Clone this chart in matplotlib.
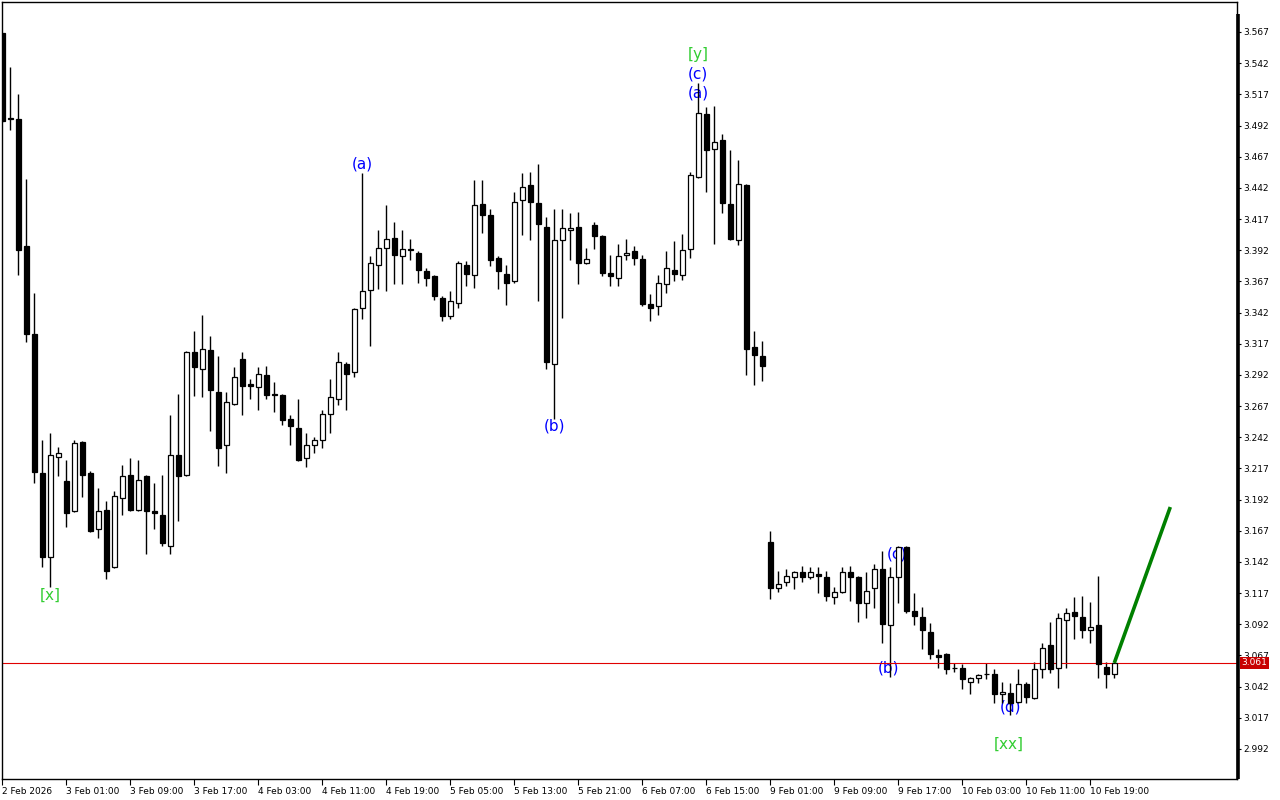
# Natural gas H1 chart with Elliott wave marks (MT4 style)

import matplotlib
matplotlib.use("Agg")
import matplotlib.pyplot as plt
import matplotlib.transforms as mtransforms

# Data: hourly candles, 2 Feb 17:00 .. 10 Feb 23:00
opens = [3.566, 3.498, 3.497, 3.395, 3.325, 3.213, 3.146, 3.226, 3.207, 3.183,
         3.238, 3.213, 3.168, 3.184, 3.138, 3.193, 3.212, 3.184, 3.211, 3.183,
         3.180, 3.155, 3.228, 3.212, 3.310, 3.297, 3.312, 3.278, 3.236, 3.269,
         3.305, 3.285, 3.282, 3.292, 3.277, 3.276, 3.257, 3.249, 3.225, 3.236,
         3.240, 3.261, 3.273, 3.301, 3.294, 3.346, 3.360, 3.380, 3.394, 3.402,
         3.387, 3.393, 3.390, 3.375, 3.371, 3.354, 3.339, 3.350, 3.380, 3.372,
         3.429, 3.420, 3.386, 3.373, 3.367, 3.432, 3.444, 3.430, 3.411, 3.301,
         3.400, 3.408, 3.411, 3.382, 3.412, 3.403, 3.374, 3.370, 3.388, 3.391,
         3.385, 3.349, 3.347, 3.365, 3.376, 3.372, 3.393, 3.451, 3.501, 3.473,
         3.480, 3.429, 3.400, 3.444, 3.314, 3.307, 3.158, 3.121, 3.126, 3.130,
         3.134, 3.130, 3.132, 3.130, 3.114, 3.118, 3.134, 3.130, 3.109, 3.121,
         3.136, 3.091, 3.130, 3.154, 3.103, 3.098, 3.086, 3.067, 3.068, 3.057,
         3.057, 3.046, 3.049, 3.052, 3.052, 3.036, 3.037, 3.030, 3.044, 3.033,
         3.056, 3.075, 3.057, 3.095, 3.102, 3.098, 3.087, 3.091, 3.058, 3.052]
closes = [3.496, 3.497, 3.392, 3.325, 3.214, 3.146, 3.228, 3.229, 3.181, 3.237,
          3.212, 3.167, 3.183, 3.135, 3.195, 3.211, 3.184, 3.208, 3.183, 3.181,
          3.157, 3.228, 3.211, 3.310, 3.298, 3.313, 3.280, 3.233, 3.270, 3.290,
          3.283, 3.283, 3.293, 3.276, 3.276, 3.256, 3.251, 3.224, 3.236, 3.240,
          3.261, 3.274, 3.302, 3.293, 3.345, 3.359, 3.382, 3.394, 3.401, 3.388,
          3.393, 3.392, 3.376, 3.370, 3.355, 3.339, 3.351, 3.382, 3.373, 3.428,
          3.420, 3.384, 3.375, 3.366, 3.431, 3.443, 3.431, 3.413, 3.302, 3.400,
          3.410, 3.410, 3.382, 3.385, 3.403, 3.374, 3.371, 3.387, 3.390, 3.386,
          3.349, 3.346, 3.366, 3.378, 3.373, 3.392, 3.452, 3.502, 3.472, 3.479,
          3.430, 3.401, 3.445, 3.313, 3.308, 3.299, 3.121, 3.124, 3.131, 3.134,
          3.130, 3.134, 3.131, 3.115, 3.118, 3.134, 3.130, 3.109, 3.119, 3.136,
          3.092, 3.130, 3.154, 3.103, 3.099, 3.087, 3.068, 3.066, 3.056, 3.057,
          3.048, 3.049, 3.051, 3.052, 3.036, 3.038, 3.029, 3.044, 3.034, 3.056,
          3.073, 3.056, 3.097, 3.101, 3.099, 3.087, 3.090, 3.060, 3.052, 3.061]
highs = [3.566, 3.539, 3.517, 3.449, 3.358, 3.240, 3.245, 3.234, 3.224, 3.240,
         3.239, 3.215, 3.201, 3.191, 3.199, 3.220, 3.225, 3.224, 3.212, 3.205,
         3.212, 3.260, 3.277, 3.311, 3.327, 3.340, 3.323, 3.307, 3.278, 3.298,
         3.310, 3.289, 3.298, 3.299, 3.286, 3.277, 3.260, 3.273, 3.245, 3.242,
         3.264, 3.289, 3.310, 3.302, 3.346, 3.454, 3.387, 3.408, 3.428, 3.415,
         3.408, 3.401, 3.391, 3.378, 3.372, 3.355, 3.359, 3.383, 3.383, 3.448,
         3.448, 3.425, 3.387, 3.380, 3.439, 3.454, 3.455, 3.461, 3.419, 3.425,
         3.425, 3.422, 3.423, 3.394, 3.415, 3.404, 3.388, 3.397, 3.401, 3.395,
         3.388, 3.357, 3.372, 3.391, 3.399, 3.405, 3.455, 3.526, 3.507, 3.508,
         3.485, 3.472, 3.464, 3.445, 3.327, 3.319, 3.167, 3.135, 3.136, 3.135,
         3.139, 3.138, 3.138, 3.135, 3.122, 3.138, 3.139, 3.131, 3.134, 3.140,
         3.151, 3.138, 3.155, 3.155, 3.117, 3.106, 3.093, 3.072, 3.069, 3.061,
         3.060, 3.050, 3.052, 3.061, 3.056, 3.046, 3.045, 3.056, 3.046, 3.062,
         3.077, 3.094, 3.101, 3.105, 3.114, 3.115, 3.110, 3.131, 3.062, 3.062]
lows = [3.495, 3.488, 3.372, 3.318, 3.205, 3.138, 3.122, 3.211, 3.170, 3.182,
        3.194, 3.166, 3.161, 3.128, 3.137, 3.180, 3.183, 3.183, 3.148, 3.168,
        3.155, 3.148, 3.175, 3.211, 3.275, 3.274, 3.247, 3.219, 3.213, 3.268,
        3.260, 3.273, 3.264, 3.273, 3.262, 3.252, 3.236, 3.223, 3.218, 3.229,
        3.233, 3.245, 3.268, 3.264, 3.290, 3.337, 3.315, 3.361, 3.359, 3.365,
        3.365, 3.384, 3.366, 3.363, 3.352, 3.335, 3.337, 3.346, 3.363, 3.362,
        3.406, 3.379, 3.361, 3.348, 3.366, 3.404, 3.400, 3.351, 3.297, 3.257,
        3.338, 3.384, 3.365, 3.381, 3.393, 3.371, 3.363, 3.363, 3.384, 3.380,
        3.347, 3.335, 3.340, 3.358, 3.367, 3.368, 3.386, 3.450, 3.439, 3.397,
        3.422, 3.400, 3.396, 3.292, 3.284, 3.287, 3.112, 3.118, 3.123, 3.120,
        3.126, 3.128, 3.117, 3.111, 3.108, 3.117, 3.111, 3.094, 3.097, 3.105,
        3.077, 3.050, 3.109, 3.101, 3.091, 3.072, 3.064, 3.057, 3.052, 3.054,
        3.040, 3.036, 3.045, 3.048, 3.029, 3.029, 3.019, 3.029, 3.029, 3.032,
        3.049, 3.053, 3.041, 3.057, 3.080, 3.081, 3.077, 3.049, 3.041, 3.049]

# time axis labels (one every 8 bars)
x_tick_bars = [0, 8, 16, 24, 32, 40, 48, 56, 64, 72, 80, 88, 96, 104, 112, 120, 128, 136]
x_tick_labels = ["2 Feb 2026", "3 Feb 01:00", "3 Feb 09:00", "3 Feb 17:00", "4 Feb 03:00",
                 "4 Feb 11:00", "4 Feb 19:00", "5 Feb 05:00", "5 Feb 13:00", "5 Feb 21:00",
                 "6 Feb 07:00", "6 Feb 15:00", "9 Feb 01:00", "9 Feb 09:00", "9 Feb 17:00",
                 "10 Feb 03:00", "10 Feb 11:00", "10 Feb 19:00"]
y_ticks = [3.567, 3.542, 3.517, 3.492, 3.467, 3.442, 3.417, 3.392, 3.367, 3.342, 3.317, 3.292,
           3.267, 3.242, 3.217, 3.192, 3.167, 3.142, 3.117, 3.092, 3.067, 3.042, 3.017, 2.992]

# wave marks
wave_text = ["[x]", "(a)", "(b)", "[y]", "(c)", "(a)", "(c)", "(b)", "(d)", "[xx]"]
wave_bar = [6, 45, 69, 87, 87, 87, 111.8, 110.8, 126, 125.8]
wave_price = [3.115, 3.461, 3.251, 3.549, 3.533, 3.518, 3.148, 3.057, 3.026, 2.996]
wave_color = ["#32cd32", "blue", "blue", "#32cd32", "blue", "blue", "blue", "blue", "blue", "#32cd32"]

# forecast line and current price
forecast_bars = [139, 146]
forecast_prices = [3.061, 3.186]
last_price = 3.061

# Plot
fig = plt.figure(figsize=(12.8, 8), dpi=100)
ax = fig.add_axes([2 / 1280, 21 / 800, 1235 / 1280, 777 / 800])

bars = list(range(len(opens)))
ax.vlines(bars, lows, highs, color="black", linewidth=1, zorder=2)

bottoms = [min(o, c) for o, c in zip(opens, closes)]
heights = [abs(c - o) for o, c in zip(opens, closes)]
fills = ["white" if c > o else "black" for o, c in zip(opens, closes)]
ax.bar(bars, heights, bottom=bottoms, width=0.6, color=fills,
       edgecolor="black", linewidth=0.9, zorder=3)

for txt, b, p, col in zip(wave_text, wave_bar, wave_price, wave_color):
    ax.text(b, p, txt, color=col, fontsize=11, ha="center", va="center", zorder=1.5)

ax.axhline(last_price, color="#e00000", linewidth=0.8, zorder=2.5)
ax.plot(forecast_bars, forecast_prices, color="green", linewidth=2.6,
        solid_capstyle="butt", zorder=4)

# price label box on the axis
trans = mtransforms.blended_transform_factory(ax.transAxes, ax.transData)
ax.text(1.0035, last_price, f"{last_price:.3f}", transform=trans, color="white",
        fontsize=6.5, ha="left", va="center", clip_on=False, zorder=5,
        bbox=dict(facecolor="#c80000", edgecolor="none", pad=1.2))

# axes
ax.set_xlim(-0.0375, 154.3375)
ax.set_ylim(2.96787, 3.59106)

ax.yaxis.tick_right()
ax.set_yticks(y_ticks)
ax.set_yticklabels([f"{v:.3f}" for v in y_ticks])
ax.tick_params(axis="y", direction="out", length=3, width=0.8, pad=1.5,
               labelsize=6.5, colors="black")

ax.set_xticks(x_tick_bars)
ax.set_xticklabels(x_tick_labels)
for lbl in ax.get_xticklabels():
    lbl.set_horizontalalignment("left")
ax.tick_params(axis="x", direction="out", length=4, width=0.8, pad=1.5, labelsize=6.5)

for side in ["top", "left", "bottom", "right"]:
    ax.spines[side].set_linewidth(1)
# thick price-scale border (starts a little below the top, like MT4)
ax.plot([1.0005, 1.0005], [0, 0.984], transform=ax.transAxes, color="black",
        linewidth=2.6, solid_capstyle="butt", clip_on=False, zorder=6)

plt.savefig("out.png", dpi=100)
